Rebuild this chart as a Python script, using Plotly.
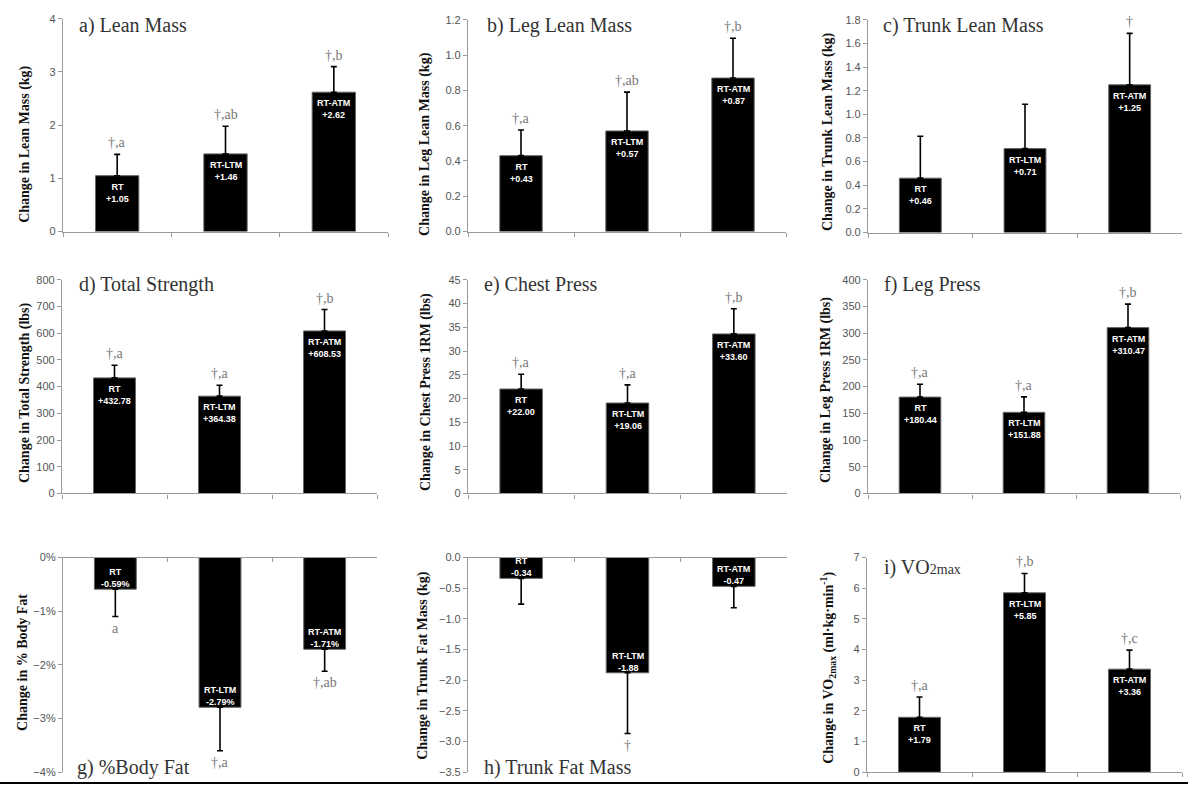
import plotly.graph_objects as go

W, H = 1188, 791

groups = ["RT", "RT-LTM", "RT-ATM"]

lean_mass = [1.05, 1.46, 2.62]
lean_mass_err = [0.40, 0.52, 0.48]
lean_mass_sig = ["†,a", "†,ab", "†,b"]

leg_lean = [0.43, 0.57, 0.87]
leg_lean_err = [0.145, 0.22, 0.225]
leg_lean_sig = ["†,a", "†,ab", "†,b"]

trunk_lean = [0.46, 0.71, 1.25]
trunk_lean_err = [0.355, 0.375, 0.435]
trunk_lean_sig = ["", "", "†"]

total_strength = [432.78, 364.38, 608.53]
total_strength_err = [47, 41, 80]
total_strength_sig = ["†,a", "†,a", "†,b"]

chest_press = [22.00, 19.06, 33.60]
chest_press_err = [3.1, 3.8, 5.3]
chest_press_sig = ["†,a", "†,a", "†,b"]

leg_press = [180.44, 151.88, 310.47]
leg_press_err = [24, 29, 44]
leg_press_sig = ["†,a", "†,a", "†,b"]

body_fat = [-0.59, -2.79, -1.71]
body_fat_err = [0.51, 0.81, 0.41]
body_fat_sig = ["a", "†,a", "†,ab"]

trunk_fat = [-0.34, -1.88, -0.47]
trunk_fat_err = [0.42, 0.99, 0.35]
trunk_fat_sig = ["", "†", ""]

vo2max = [1.79, 5.85, 3.36]
vo2max_err = [0.66, 0.63, 0.62]
vo2max_sig = ["†,a", "†,b", "†,c"]

panels = [
    dict(vals=lean_mass, err=lean_mass_err, sig=lean_mass_sig, suffix="",
         rng=[0, 4], dtick=1, fmt="d", title="a) Lean Mass",
         ytitle="Change in Lean Mass (kg)",
         xd=(63, 388), yd=(13, 229), tpos=(77, 20), ytpos=(25, 141)),
    dict(vals=leg_lean, err=leg_lean_err, sig=leg_lean_sig, suffix="",
         rng=[0, 1.2], dtick=0.2, fmt=".1f", title="b) Leg Lean Mass",
         ytitle="Change in Leg Lean Mass (kg)",
         xd=(468, 786), yd=(14, 229), tpos=(485, 20), ytpos=(425, 140)),
    dict(vals=trunk_lean, err=trunk_lean_err, sig=trunk_lean_sig, suffix="",
         rng=[0, 1.8], dtick=0.2, fmt=".1f", title="c) Trunk Lean Mass",
         ytitle="Change in Trunk Lean Mass (kg)",
         xd=(868, 1182), yd=(14, 230), tpos=(881, 20), ytpos=(828, 128)),
    dict(vals=total_strength, err=total_strength_err, sig=total_strength_sig, suffix="",
         rng=[0, 800], dtick=100, fmt="d", title="d) Total Strength",
         ytitle="Change in Total Strength (lbs)",
         xd=(62, 377), yd=(278, 495), tpos=(77, 283), ytpos=(25, 393)),
    dict(vals=chest_press, err=chest_press_err, sig=chest_press_sig, suffix="",
         rng=[0, 45], dtick=5, fmt="d", title="e) Chest Press",
         ytitle="Change in Chest Press 1RM (lbs)",
         xd=(468, 787), yd=(278, 495), tpos=(482, 283), ytpos=(426, 392)),
    dict(vals=leg_press, err=leg_press_err, sig=leg_press_sig, suffix="",
         rng=[0, 400], dtick=50, fmt="d", title="f) Leg Press",
         ytitle="Change in Leg Press 1RM (lbs)",
         xd=(868, 1180), yd=(278, 495), tpos=(882, 283), ytpos=(826, 390)),
    dict(vals=body_fat, err=body_fat_err, sig=body_fat_sig, suffix="%",
         rng=[-4, 0], dtick=1, fmt="d", title="g) %Body Fat",
         ytitle="Change in % Body Fat",
         xd=(63, 377), yd=(560, 778), tpos=(75, 773), ytpos=(23, 667)),
    dict(vals=trunk_fat, err=trunk_fat_err, sig=trunk_fat_sig, suffix="",
         rng=[-3.5, 0], dtick=0.5, fmt=".1f", title="h) Trunk Fat Mass",
         ytitle="Change in Trunk Fat Mass (kg)",
         xd=(468, 787), yd=(560, 778), tpos=(482, 773), ytpos=(423, 670)),
    dict(vals=vo2max, err=vo2max_err, sig=vo2max_sig, suffix="",
         rng=[0, 7], dtick=1, fmt="d",
         title="i) VO<span style='font-size:14px'>2max</span>",
         ytitle="Change in VO<sub>2max</sub> (ml·kg·min<sup>-1</sup>)",
         xd=(867, 1182), yd=(560, 778), tpos=(882, 570), ytpos=(828, 672)),
]

fig = go.Figure()
annotations = []
layout = {}
AX = "#9a9a9a"

for i, p in enumerate(panels):
    n = "" if i == 0 else str(i + 1)
    xa, ya = "x" + n, "y" + n
    neg = p["rng"][1] == 0
    vals, err = p["vals"], p["err"]
    zeros = [0] * len(vals)
    fig.add_trace(go.Bar(
        x=groups, y=vals, xaxis=xa, yaxis=ya, width=0.4,
        marker=dict(color="black", line=dict(color="#666666", width=1)),
        error_y=dict(type="data", symmetric=False,
                     array=zeros if neg else err,
                     arrayminus=err if neg else zeros,
                     color="black", thickness=1.6, width=3),
        showlegend=False, hoverinfo="skip",
    ))
    layout["xaxis" + n] = dict(
        domain=[p["xd"][0] / W, p["xd"][1] / W], anchor=ya,
        type="category", range=[-0.5, 2.5], showticklabels=False,
        showline=True, linecolor=AX, linewidth=1.2,
        ticks="inside" if neg else "outside", tickson="boundaries",
        ticklen=4, tickcolor=AX, side="top" if neg else "bottom",
        showgrid=False, zeroline=False, fixedrange=True,
    )
    yaxis = dict(
        domain=[1 - p["yd"][1] / H, 1 - p["yd"][0] / H], anchor=xa,
        range=p["rng"], dtick=p["dtick"], tick0=0,
        showline=True, linecolor=AX, linewidth=1.2,
        ticks="outside", ticklen=4, tickcolor=AX,
        tickfont=dict(family="Liberation Sans, Arial", size=11, color="#555555"),
        showgrid=False, zeroline=False, fixedrange=True,
    )
    if p["suffix"] == "%":
        yaxis["ticksuffix"] = "%"
        yaxis["tickformat"] = "d"
    else:
        yaxis["tickformat"] = p["fmt"]
    layout["yaxis" + n] = yaxis

    for g, v, e, s in zip(groups, vals, err, p["sig"]):
        annotations.append(dict(
            x=g, y=v, xref=xa, yref=ya, showarrow=False,
            text=f"<b>{g}<br>{v:+.2f}{p['suffix']}</b>",
            font=dict(family="Liberation Sans, Arial", size=9, color="white"),
            yanchor="bottom" if v < 0 else "top",
            yshift=-2 if v < 0 else -4,
        ))
        if s:
            annotations.append(dict(
                x=g, y=v - e if v < 0 else v + e, xref=xa, yref=ya, showarrow=False,
                text=s,
                font=dict(family="Liberation Serif, Times New Roman", size=14, color="#777777"),
                yanchor="top" if v < 0 else "bottom",
                yshift=-2 if v < 0 else 2,
            ))
    annotations.append(dict(
        x=p["tpos"][0] / W, y=1 - p["tpos"][1] / H, xref="paper", yref="paper",
        xanchor="left", yanchor="middle", showarrow=False, text=p["title"],
        font=dict(family="Liberation Serif, Times New Roman", size=20, color="#333333"),
    ))
    annotations.append(dict(
        x=p["ytpos"][0] / W, y=1 - p["ytpos"][1] / H, xref="paper", yref="paper",
        xanchor="center", yanchor="middle", showarrow=False, textangle=-90,
        text=f"<b>{p['ytitle']}</b>",
        font=dict(family="Liberation Serif, Times New Roman", size=14, color="#111111"),
    ))

fig.update_layout(
    width=W, height=H, autosize=False,
    margin=dict(l=0, r=0, t=0, b=0),
    paper_bgcolor="white", plot_bgcolor="white",
    annotations=annotations,
    shapes=[dict(type="line", xref="paper", yref="paper", x0=0, x1=1,
                 y0=1 - 789 / H, y1=1 - 789 / H, line=dict(color="black", width=2))],
    **layout,
)

fig.write_html(
    "out.html",
    config={"displayModeBar": False},
    post_script="document.body.style.margin='0';document.body.style.overflow='hidden';",
)
